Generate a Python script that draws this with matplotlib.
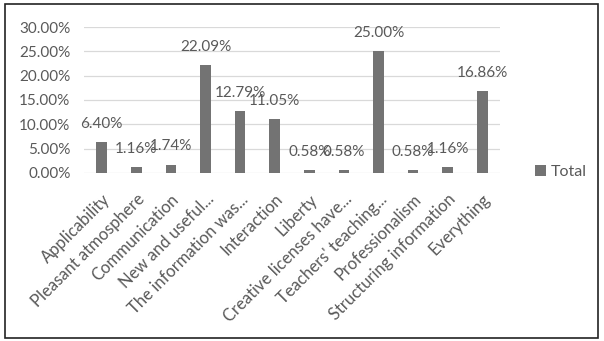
#!/usr/bin/env python3

import matplotlib
matplotlib.use('Agg')
import matplotlib.pyplot as plt
from matplotlib.patches import Rectangle
from matplotlib.ticker import FuncFormatter

categories = [
    'Applicability', 'Pleasant atmosphere', 'Communication', 'New and useful...',
    'The information was...', 'Interaction', 'Liberty', 'Creative licenses have...',
    "Teachers' teaching...", 'Professionalism', 'Structuring information', 'Everything',
]
totals = [6.40, 1.16, 1.74, 22.09, 12.79, 11.05, 0.58, 0.58, 25.00, 0.58, 1.16, 16.86]
y_ticks = [0, 5, 10, 15, 20, 25, 30]

TEXT = '#595959'
BAR = '#737373'


def main():
    plt.rcParams['font.family'] = ['Lato', 'DejaVu Sans']
    plt.rcParams['font.size'] = 11

    figure = plt.figure(figsize=(6.04, 3.41), dpi=100)
    axis = figure.add_axes([0.1397, 0.4927, 0.6875, 0.4281])

    x = range(len(categories))
    bars = axis.bar(x, totals, width=0.31, color=BAR, label='Total', zorder=3)

    for rect, value in zip(bars, totals):
        axis.annotate(f"{value:.2f}%",
                      (rect.get_x() + rect.get_width() / 2, rect.get_height()),
                      xytext=(0, 13), textcoords='offset points',
                      ha='center', va='center', color=TEXT, fontsize=11)

    axis.set_xlim(-0.5, len(categories) - 0.5)
    axis.set_ylim(0, 30)
    axis.set_yticks(y_ticks)
    axis.yaxis.set_major_formatter(FuncFormatter(lambda v, p: f"{v:.2f}%"))
    axis.set_xticks(list(x))
    axis.set_xticklabels(categories, rotation=45, ha='right', rotation_mode='anchor')

    axis.tick_params(axis='both', length=0, colors=TEXT)
    axis.tick_params(axis='y', pad=10, labelsize=11)
    axis.tick_params(axis='x', pad=13, labelsize=12)
    for spine in axis.spines.values():
        spine.set_visible(False)
    axis.grid(axis='y', color='#d9d9d9', linewidth=0.9, zorder=0)
    axis.set_axisbelow(True)

    axis.legend(loc='center left', bbox_to_anchor=(527 / 604, 1 - 172 / 341),
                bbox_transform=figure.transFigure, frameon=False,
                handlelength=0.7, handleheight=0.7, handletextpad=0.3,
                borderpad=0, labelcolor=TEXT, fontsize=11.5)

    # outer frame
    figure.patches.append(Rectangle((5 / 604, 3 / 341), 592.5 / 604, 334.5 / 341,
                                    transform=figure.transFigure, fill=False,
                                    edgecolor='#222222', linewidth=1.2))

    figure.savefig('out.png', dpi=100)
    return 0


if __name__ == '__main__':
    main()
